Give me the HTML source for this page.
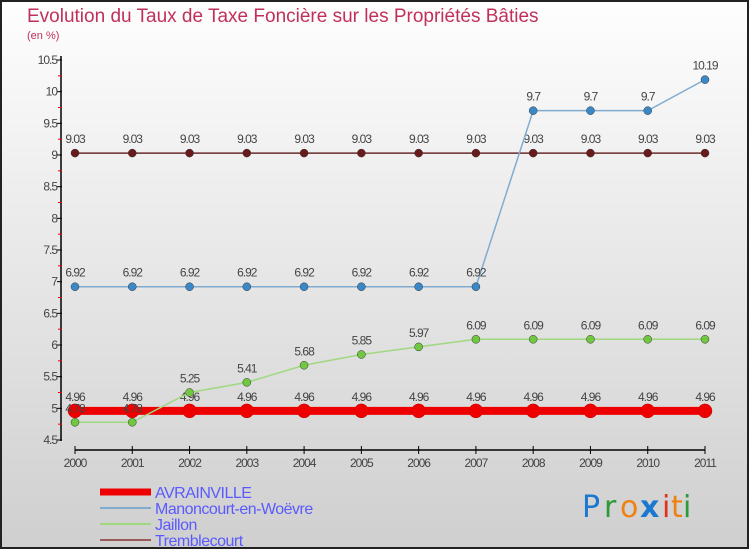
<!DOCTYPE html>
<html><head><meta charset="utf-8"><style>
html,body{margin:0;padding:0;}
body{width:750px;height:550px;overflow:hidden;font-family:"Liberation Sans",sans-serif;}
</style></head><body>
<svg id="chart" width="750" height="550" xmlns="http://www.w3.org/2000/svg" font-family="Liberation Sans, sans-serif">
<defs><linearGradient id="bg" x1="0" y1="0" x2="0" y2="1"><stop offset="0" stop-color="#fefefe"/><stop offset="1" stop-color="#cfcfcf"/></linearGradient></defs>
<rect x="1" y="1" width="747" height="547" fill="url(#bg)" stroke="#222" stroke-width="2"/>
<text x="27" y="22" font-size="19" fill="#c0305a">Evolution du Taux de Taxe Foncière sur les Propriétés Bâties</text>
<text x="27" y="39" font-size="11" fill="#c0305a">(en %)</text>
<g id="axes"></g><g id="series"></g><g id="legend"></g>
<g font-size="30" font-family="DejaVu Sans, sans-serif">
<text x="582" y="517" fill="#1a78d0">P</text><text x="604" y="517" fill="#2a9a3a">r</text><text x="620" y="517" fill="#f08010">o</text><text x="640" y="517" fill="#1a78d0" font-weight="bold">x</text><text x="662" y="517" fill="#e03020">i</text><text x="671" y="517" fill="#f08010">t</text><text x="683" y="517" fill="#2a9a3a">i</text>
</g>
</svg>
<script>
const years=[2000,2001,2002,2003,2004,2005,2006,2007,2008,2009,2010,2011];
const avrainville=[4.96,4.96,4.96,4.96,4.96,4.96,4.96,4.96,4.96,4.96,4.96,4.96];
const manoncourt=[6.92,6.92,6.92,6.92,6.92,6.92,6.92,6.92,9.7,9.7,9.7,10.19];
const jaillon=[4.78,4.78,5.25,5.41,5.68,5.85,5.97,6.09,6.09,6.09,6.09,6.09];
const tremblecourt=[9.03,9.03,9.03,9.03,9.03,9.03,9.03,9.03,9.03,9.03,9.03,9.03];
const yTicks=[4.5,5,5.5,6,6.5,7,7.5,8,8.5,9,9.5,10,10.5];
const NS="http://www.w3.org/2000/svg";
function x(i){return 75+i*(705-75)/(years.length-1);}
function y(v){return 440-(v-4.5)*(440-60)/6;}
function mk(t,a,p){const e=document.createElementNS(NS,t);for(const k in a)e.setAttribute(k,a[k]);p.appendChild(e);return e;}
const ax=document.getElementById('axes');
let e=mk('line',{x1:61,y1:56,x2:61,y2:441,stroke:'#000','stroke-width':1.5},ax);

e=mk('line',{x1:75,y1:450,x2:705,y2:450,stroke:'#000','stroke-width':1.5},ax);

yTicks.forEach((v,i)=>{
 mk('line',{x1:57,y1:y(v),x2:62,y2:y(v),stroke:'#000'},ax);
 if(i<yTicks.length-1)mk('line',{x1:58,y1:y(v+0.25),x2:62,y2:y(v+0.25),stroke:'#e00'},ax);
 const t=mk('text',{x:57,y:y(v)+4,'text-anchor':'end','font-size':12,fill:'#444','letter-spacing':'-1'},ax);
 t.textContent=v;
});
years.forEach((yr,i)=>{
 mk('line',{x1:x(i),y1:446,x2:x(i),y2:454,stroke:'#000'},ax);
 const t=mk('text',{x:x(i),y:467,'text-anchor':'middle','font-size':12,fill:'#444','letter-spacing':'-1'},ax);
 t.textContent=yr;
});
const sg=document.getElementById('series');
const series=[
 {name:'avrainville',data:avrainville,line:'#ee0000',dot:'#ee0000',w:8,r:7},
 {name:'tremblecourt',data:tremblecourt,line:'#6a2a2a',dot:'#6a1a1a',w:1.5,r:4},
 {name:'manoncourt',data:manoncourt,line:'#80acd0',dot:'#3a88c8',w:1.5,r:4},
 {name:'jaillon',data:jaillon,line:'#a0d880',dot:'#70c840',w:1.5,r:4}
];
series.forEach(s=>{
 const g=mk('g',{},sg);
 
 mk('polyline',{points:s.data.map((v,i)=>x(i)+','+y(v)).join(' '),fill:'none',stroke:s.line,'stroke-width':s.w},g);
 s.data.forEach((v,i)=>{
  const c=mk('circle',{cx:x(i),cy:y(v),r:s.r,fill:s.dot,stroke:s.r>5?'#c00':'#333','stroke-width':0.5},g);
  
  const t=mk('text',{x:x(i),y:y(v)-10,'text-anchor':'middle','font-size':12,fill:'#444','letter-spacing':'-1'},g);
  t.textContent=v;
 });
});
const lg=document.getElementById('legend');
[['AVRAINVILLE','#ee0000',7],['Manoncourt-en-Woëvre','#80acd0',2],['Jaillon','#a0d880',2],['Tremblecourt','#9a5a5a',2]].forEach((d,i)=>{
 const g=mk('g',{},lg);
 
 const yy=492+i*16;
 mk('line',{x1:100,y1:yy,x2:151,y2:yy,stroke:d[1],'stroke-width':d[2]},g);
 const t=mk('text',{x:155,y:yy+6,'font-size':16,fill:'#5a5aff','letter-spacing':'-0.5'},g);t.textContent=d[0];
});
</script>
</body></html>
